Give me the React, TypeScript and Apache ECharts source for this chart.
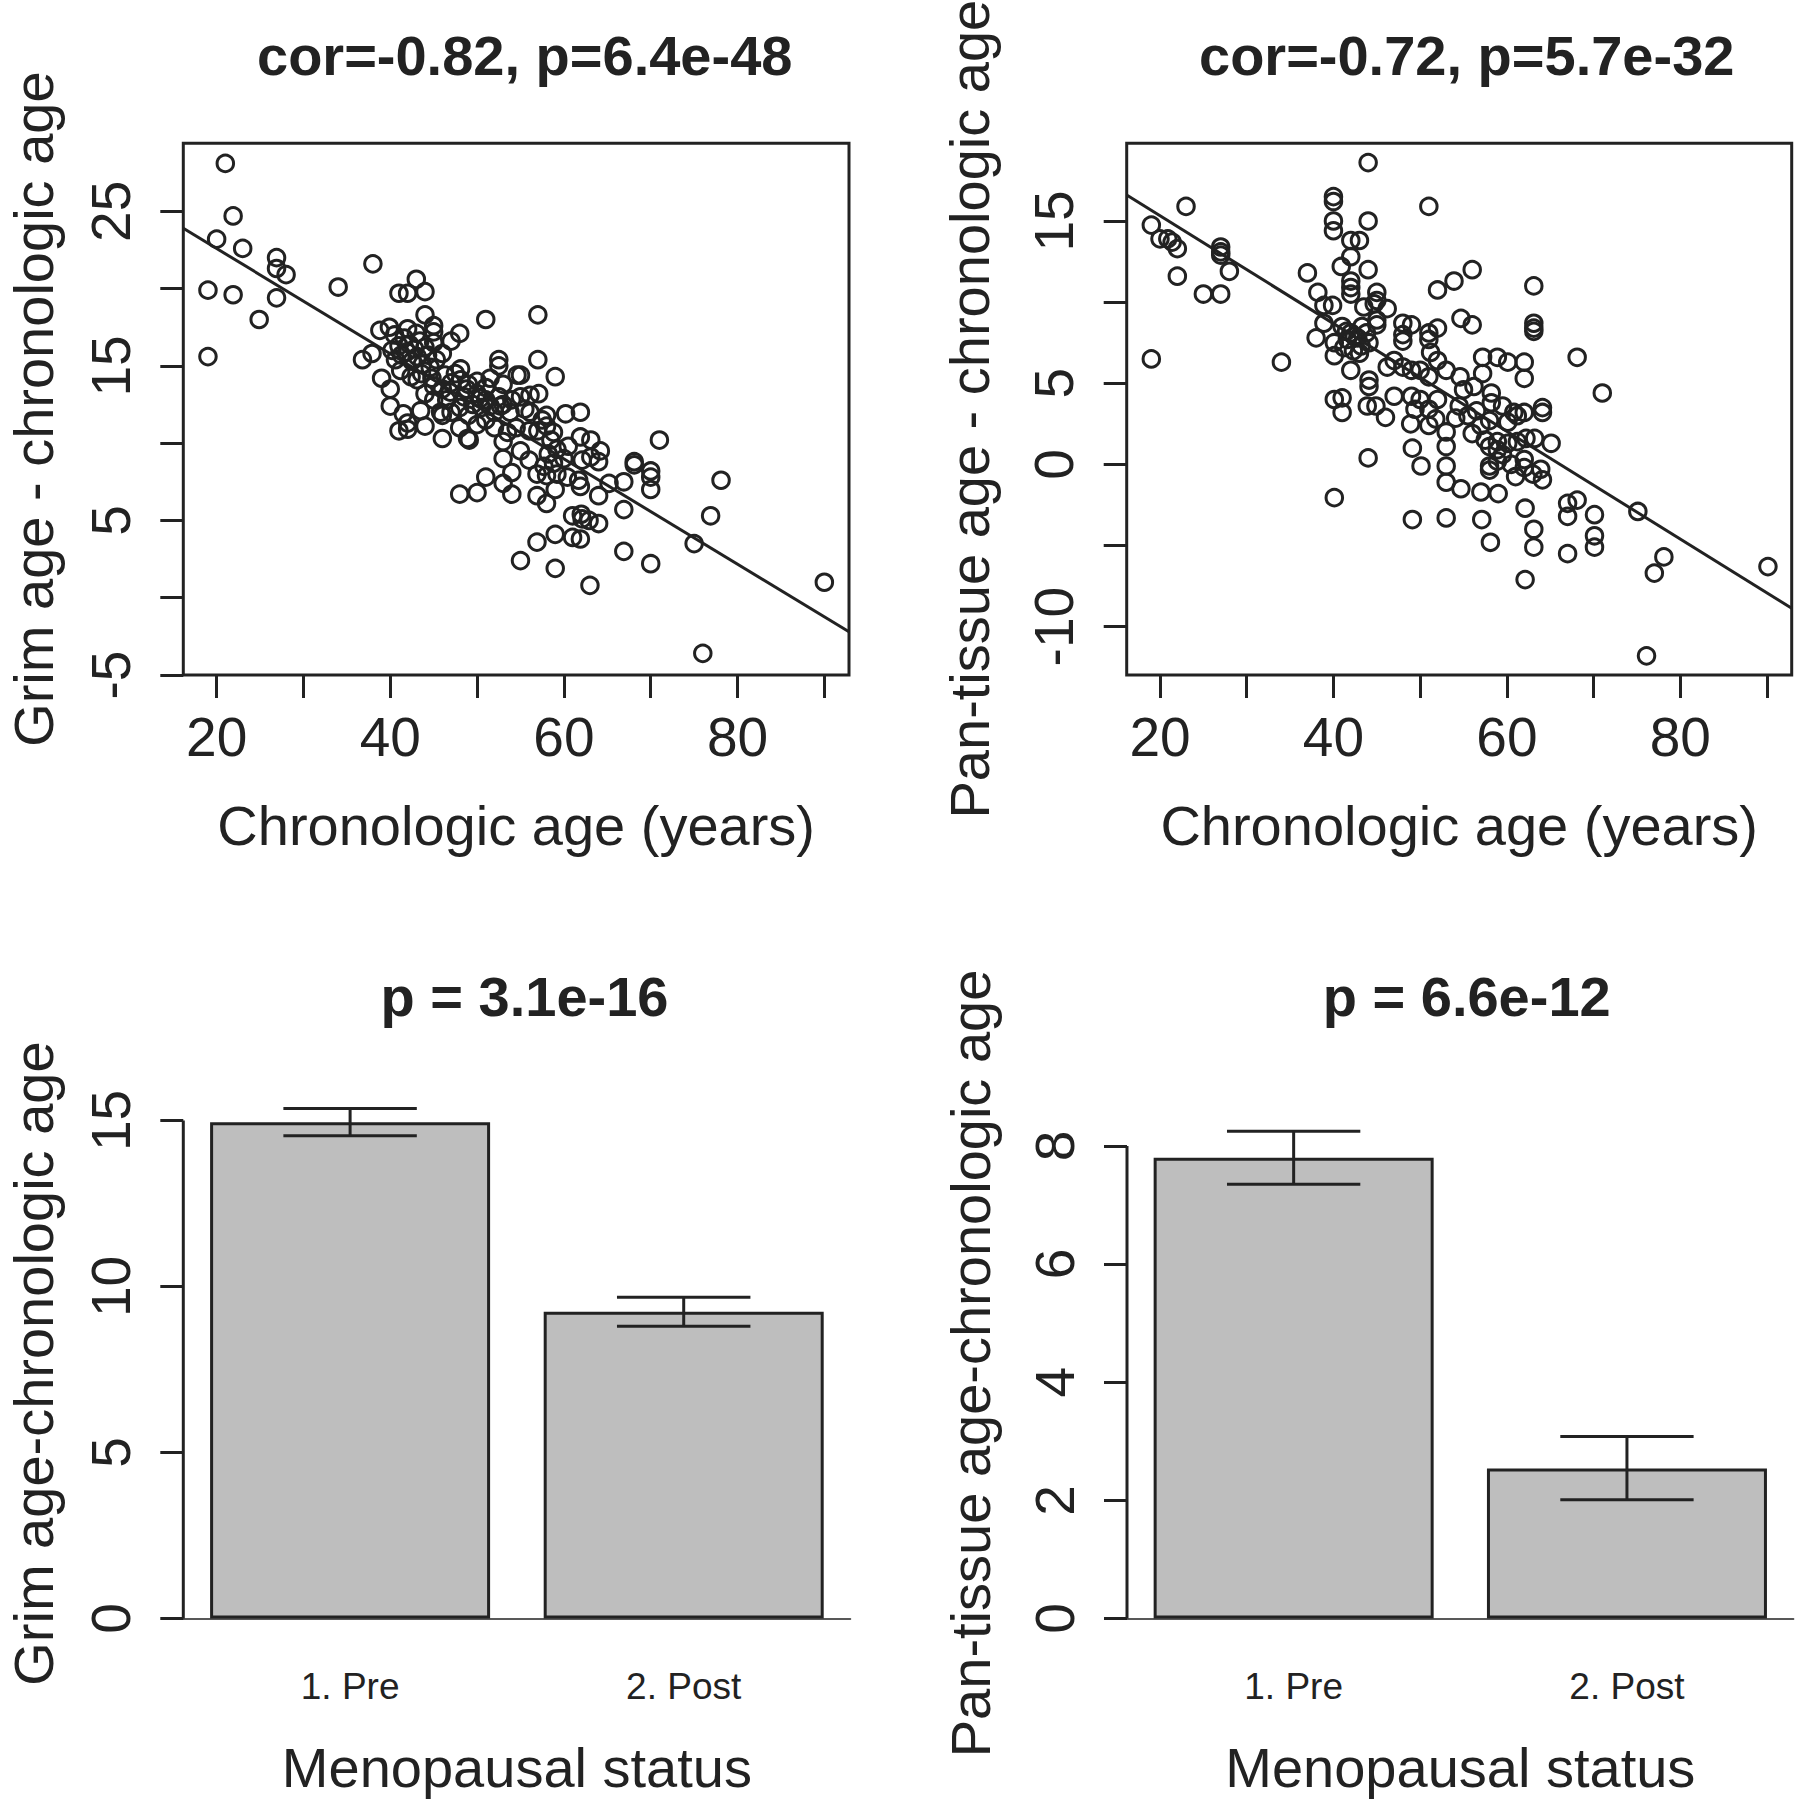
import React, { useEffect, useRef } from "react";
import * as echarts from "echarts";

const FONT = '"Liberation Sans", Arial, Helvetica, sans-serif';
const INK = "#222222";
const BAR_FILL = "#bebebe";

// ---- tick values ----
const ageTicks = [20, 30, 40, 50, 60, 70, 80, 90];
const ageLabels = [20, 40, 60, 80];
const grimTicks = [-5, 0, 5, 10, 15, 20, 25];
const grimLabels = [-5, 5, 15, 25];
const panTicks = [-10, -5, 0, 5, 10, 15];
const panLabels = [-10, 0, 5, 15];
const grimBarTicks = [0, 5, 10, 15];
const panBarTicks = [0, 2, 4, 6, 8];

// ---- texts ----
const titles = ["cor=-0.82, p=6.4e-48", "cor=-0.72, p=5.7e-32", "p = 3.1e-16", "p = 6.6e-12"];
const xNameScatter = "Chronologic age (years)";
const xNameBar = "Menopausal status";
const yNames = [
  "Grim age - chronologic age",
  "Pan-tissue age - chronologic age",
  "Grim age-chronologic age",
  "Pan-tissue age-chronologic age",
];

// ---- scatter data: [chronologic age, age acceleration] ----
const grimPoints: [number, number][] = [
  [19, 15.6], [19, 19.9], [20, 23.2], [21, 28.1], [21.9, 24.7], [21.9, 19.6], [23, 22.6], [24.9, 18.0], [26.9, 22.0], [26.9, 21.3], [28, 20.9], [26.9, 19.4], [34, 20.1], [38, 21.6],
  [43, 20.6], [41, 19.7], [42, 19.7], [44, 19.8], [44, 18.3], [45, 17.6], [45, 17.2], [47, 16.6], [48, 17.1], [38.8, 17.3], [39.9, 17.5], [42, 17.4], [36.8, 15.4], [37.9, 15.8], [39, 14.2], [40, 13.5], [40, 12.4], [51, 18.0],
  [40.2, 16.0], [40.6, 15.4], [41, 16.3], [41.3, 15.7], [41.6, 16.8], [41.9, 15.9], [42.2, 16.4], [42.5, 15.3], [42.8, 16.1], [43.1, 15.6], [43.4, 16.6], [43.7, 15.1], [44, 16.2], [44.3, 15.7], [44.6, 14.9], [45, 16.5], [45.3, 15.4], [41.2, 14.7], [42.4, 14.3], [43.6, 14.5], [44.8, 14.2], [46, 15.8], [46.3, 14.4], [40.5, 17.0], [43, 17.1],
  [43.1, 14.1], [45, 13.7], [48.1, 14.8], [48.1, 14.1], [52.5, 15.4], [52.5, 15.0], [54.6, 14.4], [46.9, 13.3], [48.8, 13.5], [50.4, 12.9], [51.5, 12.4], [52.7, 12.4], [53.8, 12.0], [45.8, 12.0], [41.5, 11.9], [43.5, 12.1],
  [57, 18.3], [57, 15.4], [55, 14.4], [59, 14.3], [56.1, 13.1], [57.1, 13.2], [61.9, 12.0],
  [41, 10.8], [42, 10.9], [42, 11.3], [44, 11.1], [46, 11.8], [46, 10.3], [48, 11.0], [48.9, 10.3], [49.1, 10.2], [51, 11.5], [53, 10.1], [53, 9.0], [54, 8.1], [51, 7.8], [48, 6.7], [50, 6.8], [54, 6.7], [53, 7.4], [55, 2.4],
  [56.1, 12.0], [58.0, 11.8], [60.2, 11.9], [53.5, 10.7], [56, 10.8], [57, 10.8], [58, 11.1], [58.8, 10.7], [61.9, 10.4], [63.1, 10.2], [64.2, 9.5], [63.1, 9.1], [62.1, 8.9], [64.0, 8.8], [71, 10.2],
  [56, 8.9], [57.7, 8.5], [58.8, 8.7], [56.9, 8.0], [58, 7.9], [59.2, 8.0], [60.4, 7.8], [61.7, 7.6], [61.9, 7.2], [65.2, 7.4], [66.9, 7.5], [68.1, 8.8], [68.1, 8.6], [70, 8.2], [70, 7.8], [70, 7.0], [78.1, 7.6],
  [56.9, 6.6], [58, 6.1], [59, 7.0], [64, 6.6], [66.9, 5.7], [61, 5.3], [62, 5.4], [62.1, 5.1], [62.9, 5.0], [64, 4.8], [76.9, 5.3], [59, 4.1], [56.9, 3.6], [61, 3.9], [61.9, 3.8], [75, 3.5],
  [59, 1.9], [66.9, 3.0], [70, 2.2], [63, 0.8], [90, 1.0], [76, -3.6],
  [57.5, 11.5], [58.5, 10.2], [59.2, 9.6], [58.2, 9.3], [60.5, 9.8], [60, 9.0], [55, 9.5], [54.5, 11.0],
  [46.5, 12.8], [47, 13.9], [47.5, 14.5], [48.5, 13.0], [49, 13.8], [49.5, 12.5], [50, 14.0], [50, 13.2], [50.5, 12.3], [51, 13.6], [51, 12.8], [51.5, 14.2], [52, 12.0], [52.5, 13.0], [53, 12.5], [53, 13.8], [54, 12.8], [55, 13.0], [55.5, 12.2], [47, 12], [48, 12.3], [49, 11.8], [50, 11.2], [52, 11.0], [45, 12.8], [44, 13.2], [46, 13.5],
];

const panPoints: [number, number][] = [
  [19, 14.75], [20, 13.9], [20.9, 13.9], [21.4, 13.7], [22, 13.3], [23, 15.9], [27, 13.4], [27, 13.1], [27, 12.9], [28, 11.9], [22, 11.6], [25, 10.5], [27, 10.5], [19, 6.5], [34, 6.3],
  [44, 18.6], [40, 16.5], [40, 16.2], [40, 15.0], [40, 14.4], [44, 15.0], [51, 15.9], [42, 13.8], [43, 13.8], [42, 12.8], [40.9, 12.2], [44, 12.0], [37, 11.8], [42, 11.3], [42, 10.9], [42, 10.5], [38.2, 10.6], [45, 10.6], [45, 10.1], [38.9, 9.8], [39.9, 9.8], [43.5, 9.7], [44.7, 9.9], [46.2, 9.6], [45, 8.9], [45, 8.6], [38.9, 8.7], [38, 7.8], [42, 8.1], [42.4, 7.9], [41, 8.5], [43.3, 8.5], [40.1, 7.5], [41.6, 7.7], [43.2, 7.3], [40.1, 6.7], [43, 6.85], [44.1, 7.5], [42, 5.8],
  [41.5, 8.2], [42.8, 7.8], [41.2, 7.2], [42.3, 7.0], [43.8, 8.1],
  [48, 8.7], [49, 8.6], [48, 8.0], [48, 7.6], [52, 8.4], [51, 8.1], [51, 7.7], [51.2, 6.9], [52, 6.4], [47, 6.4], [48, 6.0], [49, 5.8], [46.2, 6.0], [50, 5.8], [51, 5.4], [53, 5.8], [53.9, 11.3], [52, 10.75], [54.7, 9.0],
  [44.1, 5.2], [44.1, 4.8], [40.1, 4.0], [41, 4.1], [41, 3.2], [43.9, 3.6], [44.9, 3.6], [46, 2.9], [47, 4.2], [49, 4.2], [50, 4.0], [52, 4.0], [49.4, 3.4], [51, 3.4], [51.8, 2.8], [54.5, 3.6], [55, 4.6],
  [48.9, 2.5], [51, 2.4], [53, 2.0], [53, 1.1], [53, -0.1], [53, -1.1], [49.1, 1.0], [50.1, -0.1], [44, 0.4], [40.1, -2.05], [49.1, -3.4], [53, -3.3], [54.7, -1.5],
  [56, 12.0], [63.1, 11.0], [56, 8.6], [63.1, 8.7], [63.1, 8.4], [63.1, 8.2], [68.1, 6.6], [71, 4.4], [57.2, 6.6], [58.9, 6.6], [60.1, 6.3], [62, 6.3], [62, 5.3], [57.2, 5.6], [56.2, 4.8], [58.2, 4.4], [58.2, 3.8], [59.5, 3.6], [60.8, 3.2], [62, 3.2], [64.1, 3.5], [64.1, 3.2], [54.6, 5.4],
  [54.1, 2.85], [56, 1.9], [57, 2.4], [58, 2.7], [60.1, 2.6], [61.2, 3.0], [58, 1.1], [58.9, 1.4], [58.9, 0.9], [58, -0.1], [58.9, 0.2], [58, -0.35], [60.1, 1.3], [61.2, 1.4], [62.2, 1.6], [63.2, 1.6], [65.1, 1.3], [62, 0.3], [62, -0.2], [61, -0.75], [63, -0.6], [63.9, -0.3], [64.1, -0.95],
  [57, -1.7], [59, -1.8], [57.1, -3.4], [58.1, -4.8], [62.1, -2.7], [63.1, -4.0], [63.1, -5.1], [62.1, -7.1], [67, -2.4], [68.1, -2.2], [67, -3.2], [70.1, -3.1], [70.1, -4.4], [70.1, -5.1], [67, -5.5], [75.1, -2.9], [78.1, -5.7], [77, -6.7], [90.1, -6.3], [76.1, -11.8],
  [55.5, 3.0], [56.5, 3.3], [57.5, 1.5], [59.5, 0.6], [60.5, 0.0],
];

// regression lines (end points at the plot edges)
const grimFit: [number, number][] = [[16.16, 23.9], [92.84, -2.2]];
const panFit: [number, number][] = [[16.16, 16.6], [92.84, -8.87]];

// ---- bar data ----
const groups = ["1. Pre", "2. Post"];
const grimMeans = [14.95, 9.24];
const grimLow = [14.54, 8.8];
const grimHigh = [15.36, 9.68];
const panMeans = [7.8, 2.54];
const panLow = [7.35, 2.01];
const panHigh = [8.25, 3.08];

const tickText = { color: INK, fontFamily: FONT, fontSize: 55 };
const nameText = { color: INK, fontFamily: FONT, fontSize: 56 };

function scatterX(gridIndex: number) {
  return {
    type: "value",
    gridIndex,
    min: 16.16,
    max: 92.84,
    axisLine: { show: false, onZero: false },
    splitLine: { show: false },
    axisTick: { show: true, length: 23, customValues: ageTicks, lineStyle: { color: INK, width: 3 } },
    axisLabel: { customValues: ageLabels, margin: 34, ...tickText },
    name: xNameScatter,
    nameLocation: "middle",
    nameGap: 122,
    nameTextStyle: { ...nameText },
  };
}

function valueY(gridIndex: number, min: number, max: number, ticks: number[], labels: number[], name: string, nameGap: number) {
  return {
    type: "value",
    gridIndex,
    min,
    max,
    axisLine: { show: false, onZero: false },
    splitLine: { show: false },
    axisTick: { show: true, length: 23, customValues: ticks, lineStyle: { color: INK, width: 3 } },
    axisLabel: { customValues: labels, rotate: 90, margin: 45, ...tickText },
    name,
    nameLocation: "middle",
    nameGap,
    nameTextStyle: { ...nameText },
  };
}

function barX(gridIndex: number) {
  return {
    type: "category",
    gridIndex,
    data: groups,
    boundaryGap: true,
    axisTick: { show: false },
    axisLine: { show: true, onZero: true, lineStyle: { color: INK, width: 1.5 } },
    axisLabel: { interval: 0, margin: 29, color: INK, fontFamily: FONT, fontSize: 37 },
    splitLine: { show: false },
    name: xNameBar,
    nameLocation: "middle",
    nameGap: 101,
    nameTextStyle: { ...nameText },
  };
}

function scatterSeries(idx: number, data: [number, number][]) {
  return {
    type: "scatter",
    xAxisIndex: idx,
    yAxisIndex: idx,
    data,
    symbol: "circle",
    symbolSize: 16.5,
    itemStyle: { color: "rgba(0,0,0,0)", borderColor: INK, borderWidth: 3, opacity: 1 },
    z: 3,
  };
}

function fitSeries(idx: number, data: [number, number][]) {
  return {
    type: "line",
    xAxisIndex: idx,
    yAxisIndex: idx,
    data,
    showSymbol: false,
    symbol: "none",
    lineStyle: { color: INK, width: 3 },
    z: 4,
  };
}

function barSeries(idx: number, data: number[]) {
  return {
    type: "bar",
    xAxisIndex: idx,
    yAxisIndex: idx,
    data,
    barWidth: 280,
    itemStyle: { color: BAR_FILL, borderColor: INK, borderWidth: 3 },
    z: 2,
  };
}

function errorSeries(idx: number, low: number[], high: number[]) {
  return {
    type: "custom",
    xAxisIndex: idx,
    yAxisIndex: idx,
    data: low.map((l, i) => [i, l, high[i]]),
    encode: { x: 0, y: [1, 2] },
    z: 5,
    renderItem: (params: any, api: any) => {
      const i = api.value(0);
      const lo = api.coord([i, api.value(1)]);
      const hi = api.coord([i, api.value(2)]);
      const half = api.size([1, 0])[0] * 0.2;
      const st = { stroke: INK, lineWidth: 3 };
      return {
        type: "group",
        children: [
          { type: "line", shape: { x1: lo[0], y1: lo[1], x2: hi[0], y2: hi[1] }, style: st },
          { type: "line", shape: { x1: lo[0] - half, y1: lo[1], x2: lo[0] + half, y2: lo[1] }, style: st },
          { type: "line", shape: { x1: hi[0] - half, y1: hi[1], x2: hi[0] + half, y2: hi[1] }, style: st },
        ],
      };
    },
  };
}

// y-axis line of the bar plots: from the first to the last tick, like R's axis()
function axisLineSeries(idx: number, ticks: number[]) {
  return {
    type: "custom",
    xAxisIndex: idx,
    yAxisIndex: idx,
    data: [[0, ticks[0], ticks[ticks.length - 1]]],
    encode: { x: 0, y: [1, 2] },
    clip: false,
    silent: true,
    z: 6,
    renderItem: (params: any, api: any) => {
      const x = params.coordSys.x;
      const p0 = api.coord([0, api.value(1)]);
      const p1 = api.coord([0, api.value(2)]);
      return { type: "line", shape: { x1: x, y1: p0[1], x2: x, y2: p1[1] }, style: { stroke: INK, lineWidth: 3 } };
    },
  };
}

const titleX = [524.7, 1466.7, 524.5, 1466.7];
const titleY = [55, 55, 996, 996];

export default function App() {
  const ref = useRef<HTMLDivElement>(null);
  useEffect(() => {
    if (!ref.current) return;
    const chart = echarts.init(ref.current, undefined, { renderer: "svg" });
    const option: any = {
      animation: false,
      backgroundColor: "#ffffff",
      textStyle: { fontFamily: FONT, color: INK },
      grid: [
        { left: 183.3, top: 143.3, width: 665.7, height: 531.7, show: true, borderColor: INK, borderWidth: 3, backgroundColor: "transparent", containLabel: false, outerBoundsMode: "none" },
        { left: 1126.7, top: 143.3, width: 665, height: 531.7, show: true, borderColor: INK, borderWidth: 3, backgroundColor: "transparent", containLabel: false, outerBoundsMode: "none" },
        { left: 183.3, top: 1088.3, width: 667.2, height: 550.6, show: false, containLabel: false, outerBoundsMode: "none" },
        { left: 1127, top: 1088, width: 666.6, height: 550.9, show: false, containLabel: false, outerBoundsMode: "none" },
      ],
      xAxis: [scatterX(0), scatterX(1), barX(2), barX(3)],
      yAxis: [
        valueY(0, -5, 29.4, grimTicks, grimLabels, yNames[0], 122),
        valueY(1, -12.98, 19.79, panTicks, panLabels, yNames[1], 129),
        valueY(2, -0.614, 15.97, grimBarTicks, grimBarTicks, yNames[2], 122),
        valueY(3, -0.345, 8.98, panBarTicks, panBarTicks, yNames[3], 129),
      ],
      series: [
        scatterSeries(0, grimPoints),
        fitSeries(0, grimFit),
        scatterSeries(1, panPoints),
        fitSeries(1, panFit),
        barSeries(2, grimMeans),
        errorSeries(2, grimLow, grimHigh),
        axisLineSeries(2, grimBarTicks),
        barSeries(3, panMeans),
        errorSeries(3, panLow, panHigh),
        axisLineSeries(3, panBarTicks),
      ],
      graphic: titles.map((t, i) => ({
        type: "text",
        x: titleX[i],
        y: titleY[i],
        style: {
          text: t,
          fill: INK,
          fontFamily: FONT,
          fontSize: 56,
          fontWeight: "bold",
          align: "center",
          verticalAlign: "middle",
        },
      })),
    };
    chart.setOption(option);
    return () => chart.dispose();
  }, []);
  return (
    <div
      ref={ref}
      style={{ position: "absolute", left: 0, top: 0, width: 1796, height: 1800, background: "#ffffff" }}
    />
  );
}
